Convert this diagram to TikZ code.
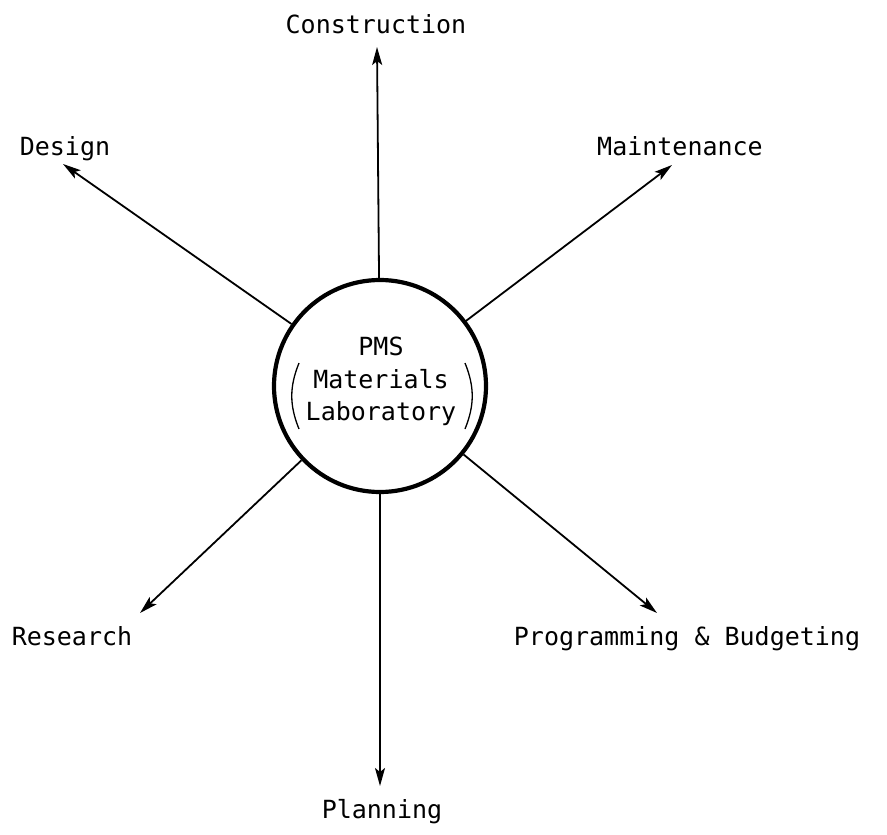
\documentclass[tikz,border=0pt]{standalone}
\usepackage{fontspec}
\setmonofont{DejaVu Sans Mono}
\usetikzlibrary{arrows.meta}
\begin{document}
\begin{tikzpicture}[x=1pt,y=-1pt,
  lbl/.style={font=\ttfamily\fontsize{25}{29}\selectfont, anchor=base, inner sep=0pt},
  spoke/.style={line width=1.8pt, -{Stealth[length=18pt,width=10pt,inset=4pt]}},
  hub/.style={circle, draw, line width=4.2pt, minimum size=212pt, inner sep=0pt},
  paren/.style={line width=1.3pt}
]
\useasboundingbox (0,0) rectangle (887,835);
\node[hub] (c) at (380,386) {};
% inner text
\node[lbl] (pms) at (381,355) {PMS};
\node[lbl] (mat) at (381,388) {Materials};
\node[lbl] (lab) at (381,420) {Laboratory};
\coordinate (lp1) at (299,363);
\coordinate (lp2) at (299,429);
\coordinate (rp1) at (465,363);
\coordinate (rp2) at (465,429);
\draw[paren] (lp1) to[bend right=22] (lp2);
\draw[paren] (rp1) to[bend left=22] (rp2);
% arrow tips
\coordinate (tC) at (377,47);
\coordinate (tD) at (63,164);
\coordinate (tM) at (672,165);
\coordinate (tR) at (140,613);
\coordinate (tP) at (657,613);
\coordinate (tL) at (380,786);
\draw[spoke] (c) -- (tC);
\draw[spoke] (c) -- (tD);
\draw[spoke] (c) -- (tM);
\draw[spoke] (c) -- (tR);
\draw[spoke] (c) -- (tP);
\draw[spoke] (c) -- (tL);
% labels
\node[lbl] (construction) at (376,33) {Construction};
\node[lbl] (design) at (65,155) {Design};
\node[lbl] (maintenance) at (680,155) {Maintenance};
\node[lbl] (research) at (72,645) {Research};
\node[lbl] (programming) at (687,645) {Programming \& Budgeting};
\node[lbl] (planning) at (382,818) {Planning};
\end{tikzpicture}
\end{document}
